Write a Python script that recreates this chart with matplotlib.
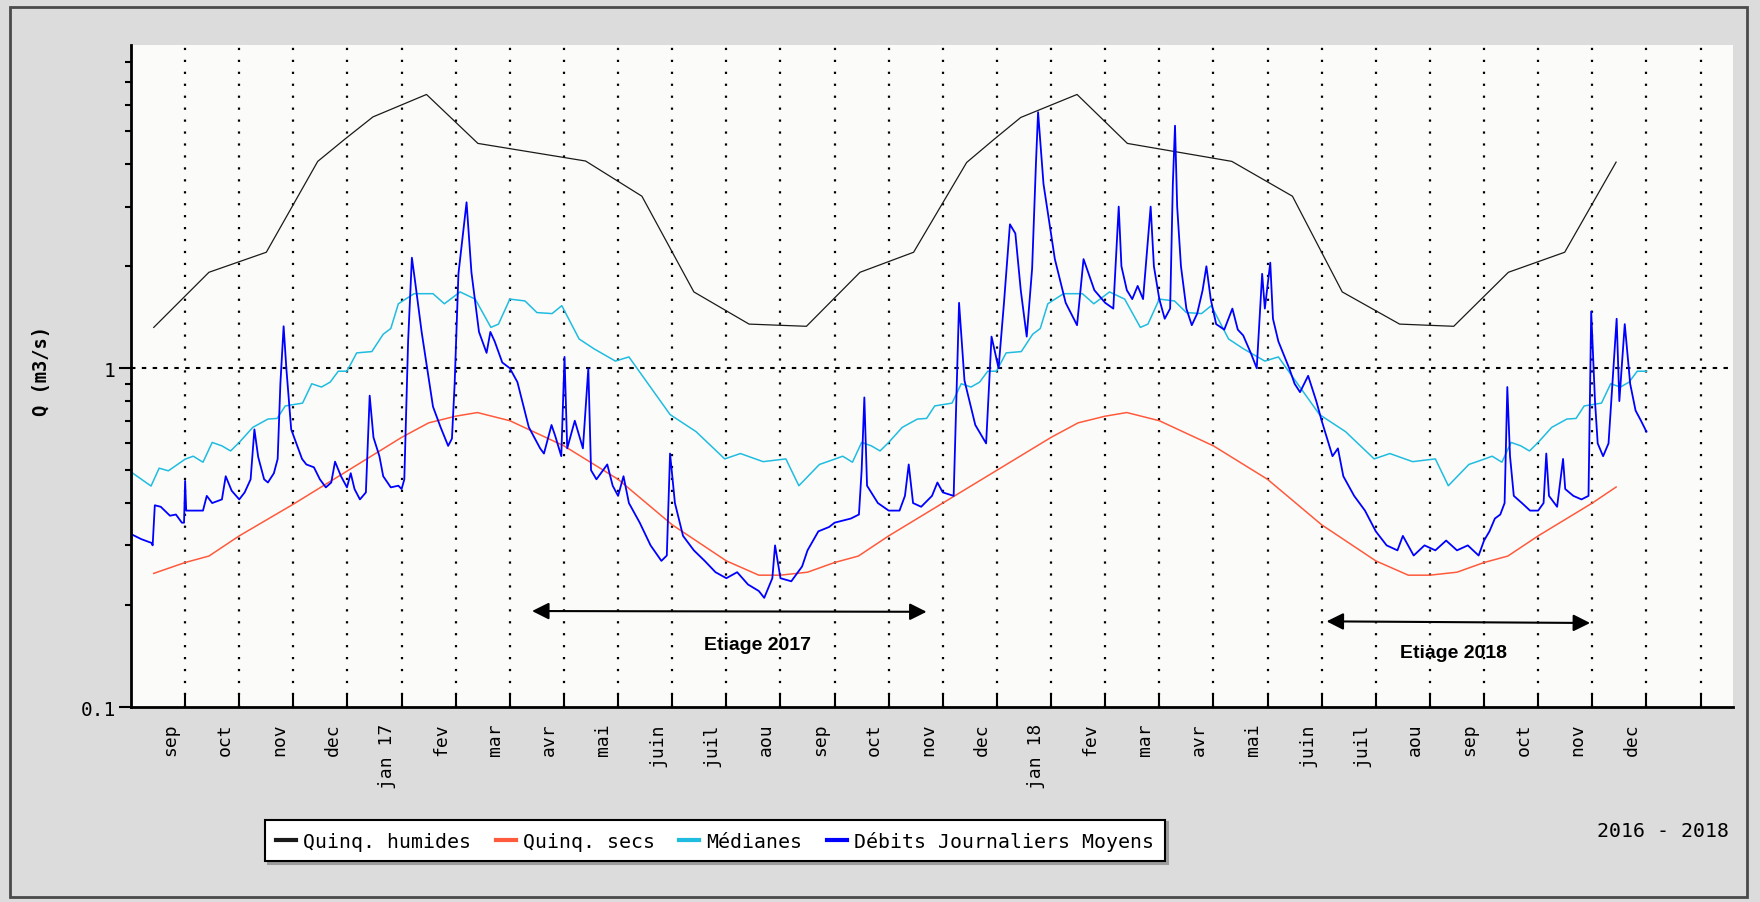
import numpy as np
import matplotlib.pyplot as plt
from matplotlib.lines import Line2D
from matplotlib.patches import Rectangle
from matplotlib.ticker import NullFormatter

plt.rcParams['lines.scale_dashes'] = False

# x axis: months counted from the "sep" 2016 gridline (0 = sep 2016, 12 = sep 2017 ...)
mois = ['sep', 'oct', 'nov', 'dec', 'jan 17', 'fev', 'mar', 'avr', 'mai', 'juin', 'juil', 'aou',
        'sep', 'oct', 'nov', 'dec', 'jan 18', 'fev', 'mar', 'avr', 'mai', 'juin', 'juil', 'aou',
        'sep', 'oct', 'nov', 'dec']

# Quinquennales humides
hum_x = [-0.58, 0.44, 1.50, 2.45, 2.94, 3.47, 4.46, 5.41, 7.40, 8.44, 9.40, 10.42, 11.48,
         12.47, 13.46, 14.44, 14.94, 15.44, 16.48, 17.41, 19.34, 20.46, 21.38, 22.44, 23.44,
         24.45, 25.49, 26.44]
hum_q = [1.32, 1.92, 2.20, 4.08, 4.73, 5.52, 6.43, 4.61, 4.09, 3.22, 1.68, 1.35, 1.33,
         1.92, 2.20, 4.05, 4.73, 5.50, 6.43, 4.61, 4.08, 3.22, 1.68, 1.35, 1.33,
         1.92, 2.20, 4.06]

# Quinquennales seches
sec_x = [-0.58, 0.0, 0.44, 1.0, 2.0, 3.0, 4.0, 4.5, 5.0, 5.4, 6.0, 7.0, 8.0, 9.0, 10.0, 10.6,
         11.0, 11.5, 12.0, 12.44, 13.0, 14.0, 15.0, 16.0, 16.5, 17.0, 17.4, 18.0, 19.0, 20.0,
         21.0, 22.0, 22.6, 23.0, 23.5, 24.0, 24.44, 25.0, 26.0, 26.44]
sec_q = [0.248, 0.267, 0.279, 0.32, 0.397, 0.498, 0.625, 0.69, 0.722, 0.74, 0.70, 0.59, 0.47,
         0.345, 0.27, 0.245, 0.245, 0.25, 0.267, 0.279, 0.32, 0.40, 0.50, 0.625, 0.69, 0.722,
         0.74, 0.70, 0.59, 0.47, 0.345, 0.27, 0.245, 0.245, 0.25, 0.267, 0.279, 0.32, 0.40,
         0.446]

# Medianes
med_x = [-0.99, -0.63, -0.48, -0.31, 0.0, 0.15, 0.33, 0.5, 0.68, 0.84, 1.0, 1.25, 1.53, 1.7,
         1.85, 2.17, 2.34, 2.52, 2.68, 2.83, 2.99, 3.17, 3.45, 3.66, 3.80, 3.94, 4.23, 4.58,
         4.79, 5.08, 5.36, 5.65, 5.79, 6.0, 6.28, 6.5, 6.78, 6.96, 7.28, 7.56, 7.95, 8.2,
         8.96, 9.44, 9.97, 10.26, 10.68, 11.1, 11.34, 11.72,
         12.0, 12.15, 12.33, 12.5, 12.68, 12.84, 13.0, 13.25, 13.53, 13.7, 13.85, 14.17, 14.34,
         14.52, 14.68, 14.83, 14.99, 15.17, 15.45, 15.66, 15.80, 15.94, 16.23, 16.58, 16.79,
         17.08, 17.36, 17.65, 17.79, 18.0, 18.28, 18.5, 18.78, 18.96, 19.28, 19.56, 19.95,
         20.2, 20.96, 21.44, 21.97, 22.26, 22.68, 23.1, 23.34, 23.72,
         24.0, 24.15, 24.33, 24.5, 24.68, 24.84, 25.0, 25.25, 25.53, 25.7, 25.85, 26.17,
         26.34, 26.52, 26.68, 26.83, 27.0]
med_q = [0.493, 0.449, 0.507, 0.498, 0.539, 0.55, 0.528, 0.604, 0.59, 0.57, 0.604, 0.669,
         0.708, 0.711, 0.774, 0.789, 0.90, 0.88, 0.91, 0.98, 0.98, 1.11, 1.12, 1.26, 1.31, 1.55,
         1.66, 1.66, 1.55, 1.68, 1.60, 1.32, 1.35, 1.60, 1.58, 1.46, 1.45, 1.53, 1.22, 1.14,
         1.05, 1.08, 0.73, 0.65, 0.54, 0.56, 0.53, 0.54, 0.45, 0.52,
         0.539, 0.55, 0.528, 0.604, 0.59, 0.57, 0.604, 0.669, 0.708, 0.711, 0.774, 0.789, 0.90,
         0.88, 0.91, 0.98, 0.98, 1.11, 1.12, 1.26, 1.31, 1.55, 1.66, 1.66, 1.55, 1.68, 1.60,
         1.32, 1.35, 1.60, 1.58, 1.46, 1.45, 1.53, 1.22, 1.14, 1.05, 1.08, 0.73, 0.65, 0.54,
         0.56, 0.53, 0.54, 0.45, 0.52,
         0.539, 0.55, 0.528, 0.604, 0.59, 0.57, 0.604, 0.669, 0.708, 0.711, 0.774, 0.789,
         0.90, 0.88, 0.91, 0.98, 0.98]

# Debits journaliers moyens
deb_x = [-1.0, -0.81, -0.62, -0.6, -0.56, -0.45, -0.28, -0.17, -0.06, -0.02,
         0.0, 0.02, 0.33, 0.4, 0.5, 0.68, 0.75, 0.86, 1.0, 1.1,
         1.21, 1.28, 1.35, 1.46, 1.53, 1.64, 1.71, 1.76, 1.82, 1.87,
         1.96, 2.16, 2.24, 2.38, 2.49, 2.6, 2.7, 2.77, 2.88, 2.99,
         3.06, 3.13, 3.23, 3.34, 3.41, 3.48, 3.59, 3.66, 3.8, 3.94,
         4.0, 4.05, 4.12, 4.19, 4.25, 4.37, 4.51, 4.58, 4.72, 4.86,
         4.93, 4.98, 5.05, 5.2, 5.29, 5.43, 5.57, 5.64, 5.72, 5.86,
         6.0, 6.14, 6.35, 6.56, 6.63, 6.77, 6.84, 6.95, 7.01, 7.06,
         7.2, 7.35, 7.45, 7.5, 7.6, 7.8, 7.9, 8.0, 8.1, 8.2,
         8.4, 8.6, 8.8, 8.9, 8.96, 9.05, 9.2, 9.4, 9.6, 9.8,
         10.0, 10.2, 10.4, 10.6, 10.7, 10.85, 10.9, 11.0, 11.2, 11.4,
         11.5, 11.7, 11.9, 12.0, 12.3, 12.45, 12.5, 12.55, 12.6, 12.8,
         13.0, 13.2, 13.3, 13.37, 13.45, 13.6, 13.8, 13.9, 14.0, 14.2,
         14.25, 14.3, 14.4, 14.6, 14.8, 14.9, 15.03, 15.13, 15.24, 15.34,
         15.44, 15.55, 15.65, 15.72, 15.76, 15.86, 16.07, 16.27, 16.48, 16.6,
         16.8, 17.0, 17.15, 17.25, 17.3, 17.4, 17.5, 17.6, 17.7, 17.84,
         17.9, 18.0, 18.1, 18.2, 18.25, 18.29, 18.33, 18.4, 18.5, 18.6,
         18.7, 18.8, 18.87, 18.95, 19.05, 19.2, 19.35, 19.45, 19.55, 19.7,
         19.8, 19.9, 19.95, 20.05, 20.1, 20.2, 20.4, 20.5, 20.6, 20.75,
         20.9, 21.0, 21.1, 21.2, 21.3, 21.4, 21.6, 21.8, 22.0, 22.2,
         22.4, 22.5, 22.7, 22.9, 23.1, 23.3, 23.5, 23.7, 23.9, 24.0,
         24.1, 24.2, 24.3, 24.38, 24.43, 24.48, 24.55, 24.7, 24.85, 25.0,
         25.1, 25.15, 25.2, 25.35, 25.46, 25.5, 25.65, 25.8, 25.93, 25.98,
         26.05, 26.1, 26.2, 26.3, 26.45, 26.5, 26.6, 26.7, 26.8, 26.9,
         27.0]
deb_q = [0.324, 0.313, 0.305, 0.30, 0.394, 0.39, 0.367, 0.37, 0.35, 0.35,
         0.465, 0.38, 0.38, 0.42, 0.40, 0.41, 0.48, 0.435, 0.41, 0.43,
         0.47, 0.66, 0.547, 0.47, 0.46, 0.49, 0.54, 0.9, 1.33, 1.0,
         0.66, 0.54, 0.52, 0.51, 0.47, 0.445, 0.46, 0.53, 0.48, 0.445,
         0.49, 0.44, 0.41, 0.43, 0.83, 0.625, 0.55, 0.48, 0.445, 0.45,
         0.44, 0.47, 1.2, 2.12, 1.8, 1.28, 0.91, 0.77, 0.67, 0.59,
         0.62, 0.9, 1.9, 3.09, 1.92, 1.28, 1.11, 1.28, 1.2, 1.04,
         1.0, 0.91, 0.67, 0.58, 0.56, 0.68, 0.63, 0.55, 1.08, 0.58,
         0.70, 0.58, 1.0, 0.5, 0.47, 0.52, 0.45, 0.42, 0.48, 0.40,
         0.35, 0.30, 0.27, 0.28, 0.56, 0.40, 0.32, 0.29, 0.27, 0.25,
         0.24, 0.25, 0.23, 0.22, 0.21, 0.24, 0.30, 0.24, 0.235, 0.26,
         0.29, 0.33, 0.34, 0.35, 0.36, 0.37, 0.5, 0.82, 0.45, 0.40,
         0.38, 0.38, 0.42, 0.52, 0.40, 0.39, 0.42, 0.46, 0.43, 0.42,
         0.8, 1.56, 0.92, 0.68, 0.60, 1.24, 1.0, 1.56, 2.66, 2.5,
         1.7, 1.24, 1.97, 4.0, 5.7, 3.5, 2.1, 1.56, 1.34, 2.1,
         1.7, 1.56, 1.5, 3.0, 2.0, 1.7, 1.6, 1.75, 1.6, 3.0,
         2.0, 1.6, 1.4, 1.5, 3.5, 5.2, 3.0, 2.0, 1.5, 1.34,
         1.45, 1.7, 2.0, 1.6, 1.35, 1.3, 1.5, 1.3, 1.25, 1.1,
         1.0, 1.9, 1.5, 2.05, 1.4, 1.2, 1.0, 0.9, 0.85, 0.95,
         0.8, 0.7, 0.62, 0.55, 0.58, 0.48, 0.42, 0.38, 0.33, 0.30,
         0.29, 0.32, 0.28, 0.30, 0.29, 0.31, 0.29, 0.30, 0.28, 0.31,
         0.33, 0.36, 0.37, 0.40, 0.88, 0.55, 0.42, 0.40, 0.38, 0.38,
         0.40, 0.56, 0.42, 0.39, 0.54, 0.44, 0.42, 0.41, 0.42, 1.47,
         0.8, 0.6, 0.55, 0.6, 1.4, 0.8, 1.35, 0.9, 0.75, 0.7,
         0.65]

legend_labels = ['Quinq. humides', 'Quinq. secs', 'Médianes', 'Débits Journaliers Moyens']
couleurs = ['#1a1a1a', '#ff5a3c', '#20bce0', '#0000ff']

# low-flow periods: (start month, end month, Q at start, Q at end)
etiage_2017 = (6.41, 13.70, 0.192, 0.191)
etiage_2018 = (21.09, 25.96, 0.179, 0.177)

fig = plt.figure(figsize=(17.6, 9.03), dpi=100)
fig.patch.set_facecolor('#dcdcdc')
fig.patches.append(Rectangle((10 / 1760, 1 - 898 / 903), 1737 / 1760, 890 / 903,
                             transform=fig.transFigure, fill=False,
                             edgecolor='#4a4a4a', lw=2))

ax = fig.add_axes([131 / 1760, 1 - 708 / 903, (1733 - 131) / 1760, (708 - 46) / 903])
ax.set_facecolor('#fbfcfa')

ax.plot(hum_x, hum_q, color=couleurs[0], lw=0.9)
ax.plot(sec_x, sec_q, color=couleurs[1], lw=1.1)
ax.plot(med_x, med_q, color=couleurs[2], lw=1.1)
ax.plot(deb_x, deb_q, color=couleurs[3], lw=1.3)

ax.set_yscale('log')
ax.set_ylim(0.1, 9)
ax.set_xlim(-1.0, 28.6)

ax.set_yticks([0.1, 1], labels=['0.1', '1'])
ax.set_yticks([0.2, 0.3, 0.4, 0.5, 0.6, 0.7, 0.8, 0.9, 2, 3, 4, 5, 6, 7, 8], minor=True)
ax.yaxis.set_minor_formatter(NullFormatter())
ax.tick_params(axis='y', which='major', direction='out', length=9, width=1.5, pad=2,
               labelsize=14)
ax.tick_params(axis='y', which='minor', direction='out', length=4.5, width=1.5)
for t in ax.get_yticklabels():
    t.set_family('DejaVu Sans Mono')

ax.set_xticks(np.arange(29), labels=[''] * 29)
ax.set_xticks(np.arange(len(mois)) - 0.27, labels=mois, minor=True)
ax.tick_params(axis='x', which='major', direction='in', length=9.5, width=1.5)
ax.tick_params(axis='x', which='minor', length=0, pad=11, labelsize=13, labelrotation=90)
for t in ax.get_xticklabels(minor=True):
    t.set_family('DejaVu Sans Mono')
    t.set_va('top')
    t.set_ha('center')

ax.grid(axis='x', which='major', color='black', lw=1.6, linestyle=(0, (1.6, 7.0)))
ax.axhline(1, color='black', lw=1.5, linestyle=(0, (3.2, 4.6)), zorder=0.5)
ax.set_axisbelow(True)

for s in ['top', 'right']:
    ax.spines[s].set_visible(False)
for s in ['left', 'bottom']:
    ax.spines[s].set_linewidth(2)

fig.text(41 / 1760, 1 - 371 / 903, 'Q (m3/s)', rotation=90, ha='center', va='center',
         family='DejaVu Sans Mono', fontweight='bold', fontsize=13.5)

for (x0, x1, y0, y1), txt, tx, ty in [(etiage_2017, 'Etiage 2017', 10.58, 0.153),
                                      (etiage_2018, 'Etiage 2018', 23.43, 0.145)]:
    ax.annotate('', xy=(x1, y1), xytext=(x0, y0),
                arrowprops=dict(arrowstyle='<|-|>,head_length=0.6,head_width=0.3',
                                color='black', lw=1.5, mutation_scale=17,
                                shrinkA=0, shrinkB=0))
    ax.text(tx, ty, txt, ha='center', va='center', family='Liberation Sans',
            fontweight='bold', fontsize=14)

handles = [Line2D([], [], color=c, lw=3) for c in couleurs]
leg = fig.legend(handles, legend_labels, ncol=4, loc='center',
                 bbox_to_anchor=(715 / 1760, 1 - 841.5 / 903), frameon=True,
                 fancybox=False, shadow={'color': '#9c9c9c', 'alpha': 1},
                 edgecolor='black', facecolor='white', handlelength=1.0,
                 handletextpad=0.35, columnspacing=1.25, borderpad=0.55,
                 prop={'family': 'DejaVu Sans Mono', 'size': 14.3})
leg.get_frame().set_linewidth(1.5)

fig.text(1729 / 1760, 1 - 832 / 903, '2016 - 2018', ha='right', va='center',
         family='DejaVu Sans Mono', fontsize=14.3)

fig.savefig('out.png', dpi=100, facecolor=fig.get_facecolor())
